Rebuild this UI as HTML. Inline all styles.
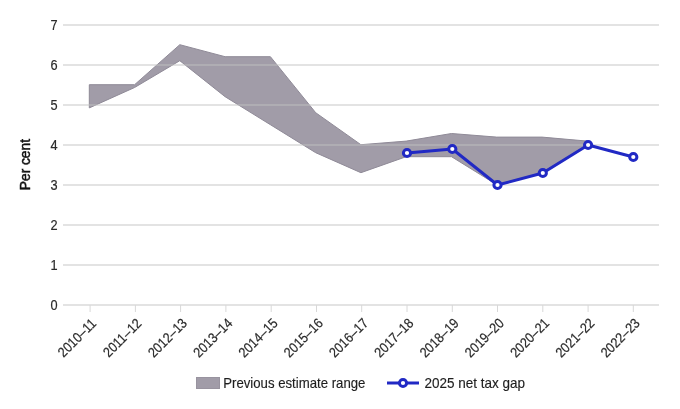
<!DOCTYPE html>
<html><head><meta charset="utf-8"><style>
html,body{margin:0;padding:0;background:#fff;width:680px;height:409px;overflow:hidden}
svg{display:block;will-change:transform;font-family:"Liberation Sans",sans-serif}
.t{stroke:#d8d8d8;stroke-width:1}
.yl{font-size:14.5px;fill:#2a2a2a;stroke:#2a2a2a;stroke-width:0.2;text-anchor:end}
.xl{font-size:14px;fill:#2a2a2a;stroke:#2a2a2a;stroke-width:0.2;text-anchor:middle}
.m{fill:#fff;stroke:#2129c4;stroke-width:3}
.leg{font-size:14px;fill:#1e1e1e;stroke:#1e1e1e;stroke-width:0.15}
</style></head><body>
<svg width="680" height="409" viewBox="0 0 680 409">
<polygon points="89.3,84.7 134.6,84.7 179.8,44.7 225.1,56.7 270.4,56.7 315.7,112.7 360.9,144.7 406.2,141.1 451.5,133.5 496.7,137.1 542.0,137.1 587.3,141.1 587.3,144.7 542.0,172.7 496.7,184.7 451.5,156.7 406.2,156.7 360.9,172.7 315.7,152.7 270.4,124.7 225.1,96.7 179.8,60.7 134.6,87.5 89.3,107.9" fill="#a19ca8" stroke="#8f8a97" stroke-width="1" stroke-linejoin="round"/>
<g stroke="#c2c2c2" stroke-width="2" opacity="0.45"><line x1="63" x2="659" y1="265.0" y2="265.0"/><line x1="63" x2="659" y1="225.0" y2="225.0"/><line x1="63" x2="659" y1="185.0" y2="185.0"/><line x1="63" x2="659" y1="145.0" y2="145.0"/><line x1="63" x2="659" y1="105.0" y2="105.0"/><line x1="63" x2="659" y1="65.0" y2="65.0"/><line x1="63" x2="659" y1="25.0" y2="25.0"/><line x1="63" x2="659" y1="305" y2="305"/></g>
<line x1="90.1" x2="90.1" y1="305" y2="312" class="t"/><line x1="135.4" x2="135.4" y1="305" y2="312" class="t"/><line x1="180.6" x2="180.6" y1="305" y2="312" class="t"/><line x1="225.9" x2="225.9" y1="305" y2="312" class="t"/><line x1="271.2" x2="271.2" y1="305" y2="312" class="t"/><line x1="316.5" x2="316.5" y1="305" y2="312" class="t"/><line x1="361.7" x2="361.7" y1="305" y2="312" class="t"/><line x1="407.0" x2="407.0" y1="305" y2="312" class="t"/><line x1="452.3" x2="452.3" y1="305" y2="312" class="t"/><line x1="497.5" x2="497.5" y1="305" y2="312" class="t"/><line x1="542.8" x2="542.8" y1="305" y2="312" class="t"/><line x1="588.1" x2="588.1" y1="305" y2="312" class="t"/><line x1="633.3" x2="633.3" y1="305" y2="312" class="t"/>
<text transform="translate(57.5,309.8) scale(0.88,1)" class="yl">0</text><text transform="translate(57.5,269.8) scale(0.88,1)" class="yl">1</text><text transform="translate(57.5,229.8) scale(0.88,1)" class="yl">2</text><text transform="translate(57.5,189.8) scale(0.88,1)" class="yl">3</text><text transform="translate(57.5,149.8) scale(0.88,1)" class="yl">4</text><text transform="translate(57.5,109.8) scale(0.88,1)" class="yl">5</text><text transform="translate(57.5,69.8) scale(0.88,1)" class="yl">6</text><text transform="translate(57.5,29.8) scale(0.88,1)" class="yl">7</text>
<text transform="translate(76.8,337.6) rotate(-45) scale(0.89,1)" class="xl" dy="5.0">2010–11</text><text transform="translate(122.1,337.6) rotate(-45) scale(0.89,1)" class="xl" dy="5.0">2011–12</text><text transform="translate(167.3,337.6) rotate(-45) scale(0.89,1)" class="xl" dy="5.0">2012–13</text><text transform="translate(212.6,337.6) rotate(-45) scale(0.89,1)" class="xl" dy="5.0">2013–14</text><text transform="translate(257.9,337.6) rotate(-45) scale(0.89,1)" class="xl" dy="5.0">2014–15</text><text transform="translate(303.2,337.6) rotate(-45) scale(0.89,1)" class="xl" dy="5.0">2015–16</text><text transform="translate(348.4,337.6) rotate(-45) scale(0.89,1)" class="xl" dy="5.0">2016–17</text><text transform="translate(393.7,337.6) rotate(-45) scale(0.89,1)" class="xl" dy="5.0">2017–18</text><text transform="translate(439.0,337.6) rotate(-45) scale(0.89,1)" class="xl" dy="5.0">2018–19</text><text transform="translate(484.2,337.6) rotate(-45) scale(0.89,1)" class="xl" dy="5.0">2019–20</text><text transform="translate(529.5,337.6) rotate(-45) scale(0.89,1)" class="xl" dy="5.0">2020–21</text><text transform="translate(574.8,337.6) rotate(-45) scale(0.89,1)" class="xl" dy="5.0">2021–22</text><text transform="translate(620.0,337.6) rotate(-45) scale(0.89,1)" class="xl" dy="5.0">2022–23</text>
<text transform="translate(30.2,164.6) rotate(-90) scale(0.98,1)" text-anchor="middle" font-size="14" stroke="#111" stroke-width="0.5" fill="#111">Per cent</text>
<polyline points="407.0,153.0 452.3,149.0 497.5,185.0 542.8,173.0 588.1,145.0 633.3,157.0" fill="none" stroke="#2129c4" stroke-width="3" stroke-linejoin="round"/>
<circle cx="407.0" cy="153.0" r="3.6" class="m"/><circle cx="452.3" cy="149.0" r="3.6" class="m"/><circle cx="497.5" cy="185.0" r="3.6" class="m"/><circle cx="542.8" cy="173.0" r="3.6" class="m"/><circle cx="588.1" cy="145.0" r="3.6" class="m"/><circle cx="633.3" cy="157.0" r="3.6" class="m"/>
<rect x="196.5" y="377.5" width="23" height="11" fill="#a19ca8" stroke="#98939f" stroke-width="1"/>
<text transform="translate(223.2,388) scale(0.943,1)" class="leg">Previous estimate range</text>
<line x1="387" x2="419" y1="383" y2="383" stroke="#2129c4" stroke-width="3"/>
<circle cx="403" cy="383" r="3.6" class="m"/>
<text transform="translate(424.5,388) scale(0.965,1)" class="leg">2025 net tax gap</text>
</svg>
</body></html>
